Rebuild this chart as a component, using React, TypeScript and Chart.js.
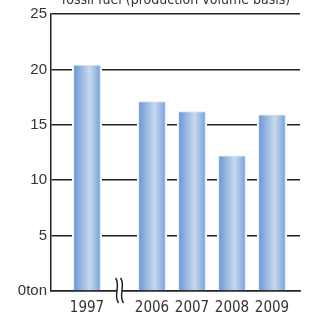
import React, { useEffect, useRef } from "react";
import { Chart, registerables } from "chart.js";

Chart.register(...registerables);

const titleText = "fossil fuel (production volume basis)";
const categories = ["1997", "2006", "2007", "2008", "2009"];
const fuelValues = [20.4, 17.1, 16.2, 12.2, 15.9];
const yTickValues = [0, 5, 10, 15, 20, 25];
const yUnit = "ton";
const BREAK_GAP = 0.625; // extra slot width inserted after the first category (axis break)

const slotPos = (i: number) => i + (i > 0 ? BREAK_GAP : 0);

const NARROW = "'Liberation Sans Narrow', 'DejaVu Sans Condensed', 'Liberation Sans', sans-serif";
const ARIAL = "'Liberation Sans', Arial, sans-serif";

export default function App() {
  const ref = useRef<HTMLCanvasElement | null>(null);

  useEffect(() => {
    if (!ref.current) return;

    const barBackdrop = {
      id: "barBackdrop",
      beforeDatasetsDraw(chart: any) {
        const ctx = chart.ctx;
        const meta = chart.getDatasetMeta(0);
        ctx.save();
        ctx.fillStyle = "#ffffff";
        meta.data.forEach((el: any) => {
          const { x, y, base, width } = el.getProps(["x", "y", "base", "width"], true);
          ctx.fillRect(x - width / 2 - 1.5, y - 1.5, width + 3, base - y + 0.5);
        });
        ctx.restore();
      },
    };

    const extras = {
      id: "extras",
      afterDraw(chart: any) {
        const ctx = chart.ctx;
        const xs = chart.scales.x;
        const ys = chart.scales.y;
        ctx.save();
        // title (cut off at top)
        ctx.fillStyle = "#333";
        ctx.font = `14px ${NARROW}`;
        ctx.textAlign = "center";
        ctx.textBaseline = "alphabetic";
        ctx.fillText(titleText, 176, 4);
        // axis break
        const xm = xs.getPixelForValue((slotPos(0) + slotPos(1)) / 2);
        const y0 = ys.getPixelForValue(0);
        ctx.fillStyle = "#fff";
        ctx.fillRect(xm - 2.5, y0 - 2, 5, 4);
        ctx.strokeStyle = "#222";
        ctx.lineWidth = 1.5;
        [xm - 2.5, xm + 2.5].forEach((x) => {
          ctx.beginPath();
          ctx.moveTo(x - 1.5, y0 - 13);
          ctx.bezierCurveTo(x + 4, y0 - 6, x - 4, y0 + 5, x + 1.5, y0 + 12);
          ctx.stroke();
        });
        ctx.restore();
      },
    };

    const chart = new Chart(ref.current, {
      type: "bar",
      data: {
        datasets: [
          {
            data: categories.map((c, i) => ({ x: slotPos(i), y: fuelValues[i] })),
            barThickness: 27,
            borderWidth: { top: 1, left: 1, right: 1, bottom: 0 },
            borderColor: "#dfe8f5",
            borderSkipped: "start",
            backgroundColor: (c: any) => {
              const ch = c.chart;
              const xs = ch.scales?.x;
              if (!xs || c.dataIndex === undefined || !ch.chartArea) return "#8fb2e0";
              const px = xs.getPixelForValue(slotPos(c.dataIndex));
              const g = ch.ctx.createLinearGradient(px - 13.5, 0, px + 13.5, 0);
              g.addColorStop(0, "#6896d3");
              g.addColorStop(0.6, "#c9d9ef");
              g.addColorStop(1, "#76a2da");
              return g;
            },
          },
        ],
      },
      options: {
        animation: false,
        responsive: false,
        layout: { padding: { top: 14, right: 12, left: 0, bottom: 0 } },
        plugins: { legend: { display: false }, tooltip: { enabled: false }, title: { display: false } },
        scales: {
          x: {
            type: "linear",
            offset: false,
            min: -0.9,
            max: 5.325,
            afterBuildTicks: (s: any) => {
              s.ticks = categories.map((_, i) => ({ value: slotPos(i) }));
            },
            afterFit: (s: any) => {
              s.height = 25;
            },
            ticks: {
              autoSkip: false,
              maxRotation: 0,
              padding: 8,
              color: "#333",
              font: { family: NARROW, size: 15 },
              callback: (v: any) => {
                const i = categories.findIndex((_, k) => Math.abs(slotPos(k) - v) < 1e-6);
                return i >= 0 ? categories[i] : "";
              },
            },
            grid: { display: false, drawTicks: false },
            border: { display: true, color: "#222", width: 1.5 },
          },
          y: {
            min: 0,
            max: 25,
            afterBuildTicks: (s: any) => {
              s.ticks = yTickValues.map((v) => ({ value: v }));
            },
            afterFit: (s: any) => {
              s.width = 51;
            },
            ticks: {
              padding: 4,
              color: "#333",
              font: { family: ARIAL, size: 15 },
              callback: (v: any) => (v === 0 ? `0${yUnit}` : String(v)),
            },
            grid: { color: "#222", lineWidth: 1.5, drawTicks: false },
            border: { display: true, color: "#222", width: 1.5 },
          },
        },
      },
      plugins: [barBackdrop, extras],
    });

    return () => chart.destroy();
  }, []);

  return (
    <div style={{ position: "fixed", left: 0, top: 0, width: 312, height: 316, background: "#fff" }}>
      <canvas ref={ref} width={312} height={316} style={{ display: "block" }} />
    </div>
  );
}
